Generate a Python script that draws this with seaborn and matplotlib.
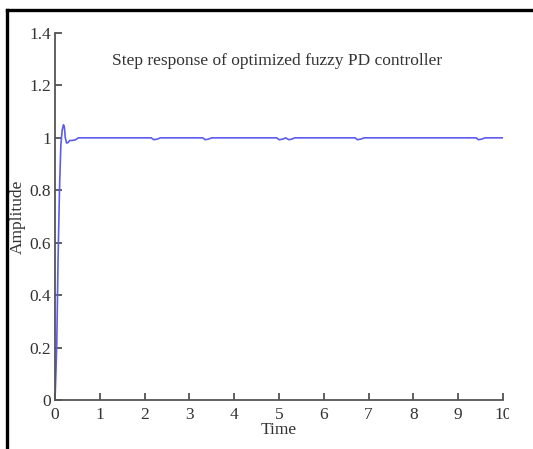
import matplotlib
matplotlib.use("Agg")
import matplotlib.pyplot as plt
from matplotlib.lines import Line2D
from matplotlib.patches import Rectangle
import seaborn as sns
import pandas as pd

# Step response samples (time in s, amplitude)
time = [0.0, 0.02, 0.04, 0.07, 0.10, 0.13, 0.16, 0.19, 0.21, 0.23, 0.26, 0.29,
        0.33, 0.38, 0.45, 0.52,
        2.15, 2.20, 2.28, 2.35,
        3.30, 3.35, 3.42, 3.50,
        4.95, 5.00, 5.08, 5.15, 5.22, 5.28, 5.35,
        6.70, 6.75, 6.82, 6.90,
        9.40, 9.45, 9.52, 9.60,
        10.0]
amplitude = [0.0, 0.10, 0.22, 0.55, 0.80, 0.97, 1.03, 1.05, 1.04, 1.00, 0.98, 0.982,
             0.99, 0.99, 0.992, 1.0,
             1.0, 0.993, 0.995, 1.0,
             1.0, 0.993, 0.995, 1.0,
             1.0, 0.993, 0.995, 1.0, 0.993, 0.995, 1.0,
             1.0, 0.993, 0.995, 1.0,
             1.0, 0.993, 0.995, 1.0,
             1.0]

x_ticks = [0, 1, 2, 3, 4, 5, 6, 7, 8, 9, 10]
y_ticks = [0, 0.2, 0.4, 0.6, 0.8, 1.0, 1.2, 1.4]
y_tick_labels = ["0", "0.2", "0.4", "0.6", "0.8", "1", "1.2", "1.4"]

title_text = "Step response of optimized fuzzy PD controller"

sns.set_style("ticks")
plt.rcParams["font.family"] = ["Liberation Serif", "DejaVu Serif"]

fig = plt.figure(figsize=(5.33, 4.49), dpi=100)
ax = fig.add_axes([55 / 533, 1 - 400 / 449, (503 - 55) / 533, (400 - 33) / 449])

df = pd.DataFrame({"Time": time, "Amplitude": amplitude})
sns.lineplot(data=df, x="Time", y="Amplitude", ax=ax, sort=False,
             estimator=None, color="#5c5cf0", linewidth=1.2)

ax.set_xlim(0, 10)
ax.set_ylim(0, 1.4)
ax.set_xticks(x_ticks)
ax.set_xticklabels([str(v) for v in x_ticks])
ax.set_yticks(y_ticks)
ax.set_yticklabels(y_tick_labels)

for side in ("top", "right"):
    ax.spines[side].set_visible(False)
for side in ("left", "bottom"):
    ax.spines[side].set_color("#555555")
    ax.spines[side].set_linewidth(1.3)

ax.tick_params(axis="both", direction="in", length=5, width=1.2,
               color="#444444", labelsize=12.5, labelcolor="#333333")
ax.tick_params(axis="x", pad=5)
ax.tick_params(axis="y", pad=3)
ax.set_xlabel("Time", fontsize=12.5, color="#333333", labelpad=-1)
ax.set_ylabel("Amplitude", fontsize=12.5, color="#333333", labelpad=2)

ax.text(4.95, 1.295, title_text, ha="center", va="center", fontsize=12.5,
        color="#333333")

# the picture is cut off just past the last tick label
fig.add_artist(Rectangle((509 / 533, 0), 24 / 533, 1 - 12 / 449,
                         transform=fig.transFigure, facecolor="white",
                         edgecolor="none", zorder=5))

# surrounding frame (left and top edges)
fig.add_artist(Line2D([6.5 / 533, 6.5 / 533], [0, 1 - 9.5 / 449],
                      transform=fig.transFigure, color="black", linewidth=2.4,
                      solid_capstyle="projecting", zorder=6))
fig.add_artist(Line2D([6.5 / 533, 1], [1 - 9.5 / 449, 1 - 9.5 / 449],
                      transform=fig.transFigure, color="black", linewidth=2.4,
                      solid_capstyle="projecting", zorder=6))

fig.savefig("out.png", dpi=100)
